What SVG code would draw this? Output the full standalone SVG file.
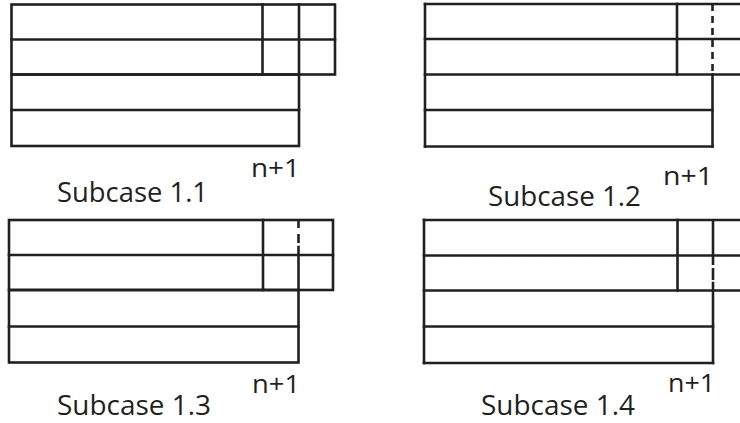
<svg xmlns="http://www.w3.org/2000/svg" width="740" height="423" viewBox="0 0 740 423">
  <style>
    .ln { stroke: #231f20; stroke-width: 2.6; fill: none; stroke-linecap: square; }
    .bt { stroke-linecap: butt; }
    .cap { font-family: "Open Sans", "Liberation Sans", sans-serif; font-size: 27px; fill: #231f20; }
    .lab { font-family: "Open Sans", "Liberation Sans", sans-serif; font-size: 25px; fill: #231f20; }
  </style>
  <rect width="740" height="423" fill="#ffffff"/>

  <g id="subcase-1-1">
    <rect class="ln" x="11.5" y="4.5" width="323.5" height="70"/>
    <line class="ln" x1="11.5" y1="39.5" x2="335" y2="39.5"/>
    <line class="ln" x1="262.5" y1="4.5" x2="262.5" y2="74.5"/>
    <line class="ln" x1="299" y1="4.5" x2="299" y2="74.5"/>
    <rect class="ln" x="11.5" y="74.5" width="287.5" height="71.5"/>
    <line class="ln" x1="11.5" y1="110" x2="299" y2="110"/>
    <text class="lab" x="251" y="177" textLength="49" lengthAdjust="spacingAndGlyphs">n+1</text>
    <text class="cap" x="57" y="202" textLength="151" lengthAdjust="spacingAndGlyphs">Subcase 1.1</text>
  </g>

  <g id="subcase-1-2">
    <line class="ln" x1="425" y1="4" x2="740" y2="4"/>
    <line class="ln" x1="425" y1="39" x2="740" y2="39"/>
    <line class="ln" x1="425" y1="74.5" x2="740" y2="74.5"/>
    <line class="ln" x1="425" y1="4" x2="425" y2="146.5"/>
    <line class="ln" x1="677" y1="4" x2="677" y2="74.5"/>
    <line class="ln bt" x1="712.5" y1="4" x2="712.5" y2="74" stroke-dasharray="7 5"/>
    <line class="ln" x1="712.5" y1="74.5" x2="712.5" y2="146.5"/>
    <line class="ln" x1="425" y1="110" x2="712.5" y2="110"/>
    <line class="ln" x1="425" y1="146.5" x2="712.5" y2="146.5"/>
    <text class="lab" x="663" y="185" textLength="50" lengthAdjust="spacingAndGlyphs">n+1</text>
    <text class="cap" x="488" y="206" textLength="153" lengthAdjust="spacingAndGlyphs">Subcase 1.2</text>
  </g>

  <g id="subcase-1-3">
    <rect class="ln" x="9" y="220" width="324" height="70"/>
    <line class="ln" x1="9" y1="255" x2="333" y2="255"/>
    <line class="ln" x1="263" y1="220" x2="263" y2="290"/>
    <line class="ln bt" x1="298.5" y1="220" x2="298.5" y2="228"/>
    <line class="ln bt" x1="298.5" y1="234" x2="298.5" y2="243"/>
    <line class="ln" x1="298.5" y1="247" x2="298.5" y2="290"/>
    <rect class="ln" x="9" y="290" width="289.5" height="72.5"/>
    <line class="ln" x1="9" y1="326.5" x2="298.5" y2="326.5"/>
    <text class="lab" x="252" y="393" textLength="48" lengthAdjust="spacingAndGlyphs">n+1</text>
    <text class="cap" x="57" y="415" textLength="154" lengthAdjust="spacingAndGlyphs">Subcase 1.3</text>
  </g>

  <g id="subcase-1-4">
    <line class="ln" x1="424" y1="220" x2="740" y2="220"/>
    <line class="ln" x1="424" y1="255.5" x2="740" y2="255.5"/>
    <line class="ln" x1="424" y1="290.5" x2="740" y2="290.5"/>
    <line class="ln" x1="424" y1="220" x2="424" y2="363"/>
    <line class="ln" x1="677.5" y1="220" x2="677.5" y2="290.5"/>
    <line class="ln bt" x1="713" y1="220" x2="713" y2="265"/>
    <line class="ln bt" x1="713" y1="268" x2="713" y2="280"/>
    <line class="ln" x1="713" y1="283" x2="713" y2="363"/>
    <line class="ln" x1="424" y1="326.5" x2="713" y2="326.5"/>
    <line class="ln" x1="424" y1="363" x2="713" y2="363"/>
    <text class="lab" x="668" y="392" textLength="47" lengthAdjust="spacingAndGlyphs">n+1</text>
    <text class="cap" x="481" y="415" textLength="154" lengthAdjust="spacingAndGlyphs">Subcase 1.4</text>
  </g>

  <g id="connectors"/>
</svg>
